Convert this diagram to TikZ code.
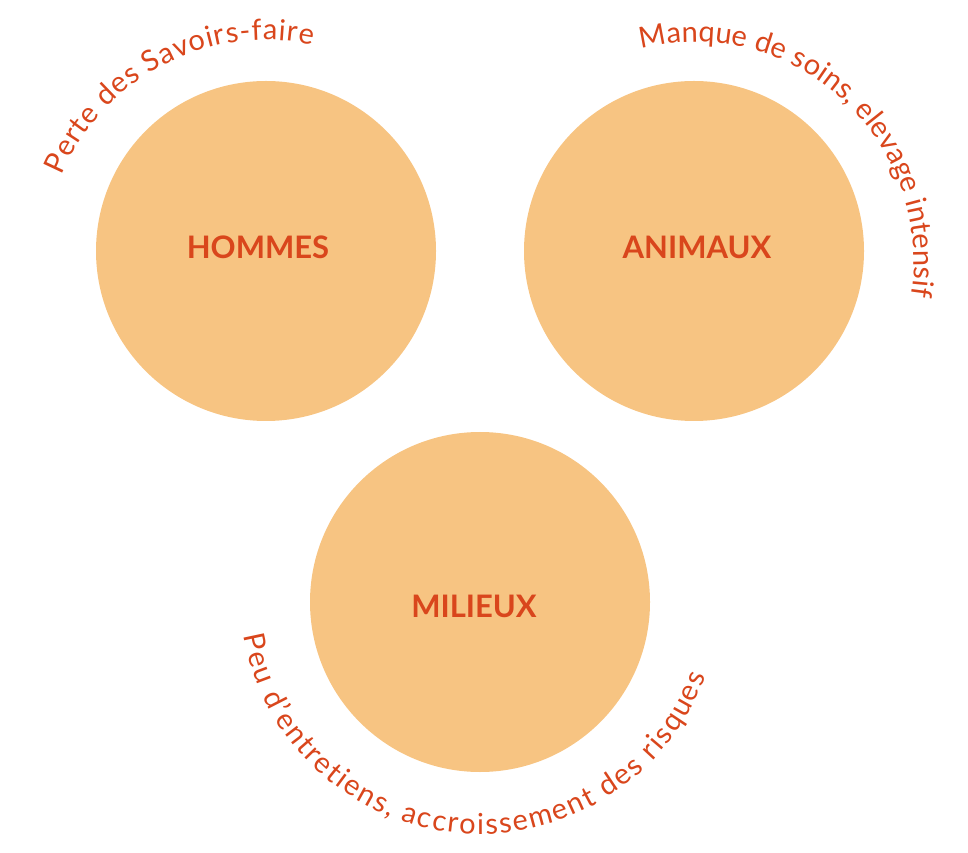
\documentclass[tikz,border=0pt]{standalone}
\usepackage{fontspec}
\setmainfont{Lato}
\usetikzlibrary{decorations.text}
\definecolor{circfill}{HTML}{F7C482}
\definecolor{txtred}{HTML}{D9461C}
\newcommand{\arcfont}{\fontsize{29}{34}\selectfont}
\tikzset{
  bigcircle/.style={circle, fill=circfill, minimum size=340pt, inner sep=0pt},
  lbl/.style={text=txtred, font=\bfseries\fontsize{31}{38}\selectfont, inner sep=0pt},
  arctext/.style={decorate, decoration={text along path, text align=fit to path,
     text color=txtred, text={|\arcfont|#1}}}
}
\begin{document}
\begin{tikzpicture}[x=1pt,y=1pt]
\useasboundingbox (0,0) rectangle (968,852);
\node[bigcircle] (hommes) at (266,601) {};
\node[bigcircle] (animaux) at (694,601) {};
\node[bigcircle] (milieux) at (480,250) {};
\node[lbl] (hommeslbl) at ([xshift=-8pt,yshift=4pt]hommes.center) {HOMMES};
\node[lbl] (animauxlbl) at ([xshift=3pt,yshift=4pt]animaux.center) {ANIMAUX};
\node[lbl] (milieuxlbl) at ([xshift=-6pt,yshift=-4pt]milieux.center) {MILIEUX};
\coordinate (hc) at ([yshift=-11pt]hommes.center);
\coordinate (ac) at ([yshift=-11pt]animaux.center);
\coordinate (mc) at ([yshift=8pt]milieux.center);
\path[arctext={Perte des Savoirs-faire}]
  (hc) ++(157:222) arc[start angle=157, end angle=78, radius=222];
\path[arctext={Manque de soins, elevage intensif}]
  (ac) ++(104:220) arc[start angle=104, end angle=-9, radius=220];
\path[arctext={Peu d'entretiens, accroissement des risques}]
  (mc) ++(190:240) arc[start angle=190, end angle=340, radius=240];
\end{tikzpicture}
\end{document}
